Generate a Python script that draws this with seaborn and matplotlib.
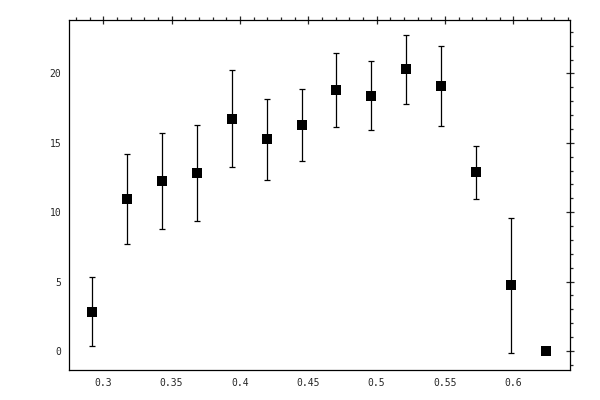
import matplotlib
matplotlib.use("Agg")
import matplotlib.pyplot as plt
from matplotlib.ticker import MultipleLocator
import pandas as pd
import seaborn as sns

# values
x_vals = [0.2921, 0.3177, 0.3432, 0.3688, 0.3944, 0.4200, 0.4456,
          0.4705, 0.4961, 0.5217, 0.5473, 0.5729, 0.5985, 0.6240]
y_vals = [2.79, 10.93, 12.23, 12.80, 16.69, 15.24, 16.26,
          18.78, 18.35, 20.29, 19.07, 12.87, 4.73, 0.0]
y_upper = [5.31, 14.17, 15.69, 16.26, 20.22, 18.13, 18.85,
           21.45, 20.87, 22.74, 21.95, 14.79, 9.56, 0.0]
y_lower = [0.36, 7.69, 8.77, 9.34, 13.23, 12.30, 13.67,
           16.12, 15.90, 17.77, 16.19, 10.93, -0.17, 0.0]

df = pd.DataFrame({"x": x_vals, "y": y_vals, "hi": y_upper, "lo": y_lower})

sns.set_style("white")
plt.rcParams["font.family"] = ["DejaVu Sans Mono"]

fig = plt.figure(figsize=(6, 4), dpi=100)
ax = fig.add_axes([0.1158, 0.075, 0.834, 0.876])

ax.errorbar(df["x"], df["y"],
            yerr=[df["y"] - df["lo"], df["hi"] - df["y"]],
            fmt="none", ecolor="black", elinewidth=0.9, capsize=2.2, capthick=0.9)
sns.scatterplot(data=df, x="x", y="y", marker="s", s=44, color="black",
                edgecolor="black", linewidth=0, ax=ax, zorder=3)

ax.set_xlim(0.2753, 0.6415)
ax.set_ylim(-1.37, 23.88)
ax.xaxis.set_minor_locator(MultipleLocator(0.01))
ax.yaxis.set_minor_locator(MultipleLocator(1))
ax.set_xticks([0.3, 0.35, 0.4, 0.45, 0.5, 0.55, 0.6])
ax.set_xticklabels(["0.3", "0.35", "0.4", "0.45", "0.5", "0.55", "0.6"])
ax.set_yticks([0, 5, 10, 15, 20])
ax.set_yticklabels(["0", "5", "10", "15", "20"])

ax.tick_params(which="major", direction="inout", length=6, width=0.9,
               labelsize=7, top=True, right=True, labeltop=False, labelright=False)
ax.tick_params(which="minor", direction="out", length=2.5, width=0.9,
               top=True, right=True)
ax.tick_params(axis="x", pad=3)
ax.tick_params(axis="y", pad=3)

for sp in ax.spines.values():
    sp.set_color("black")
    sp.set_linewidth(0.9)

ax.set_xlabel("")
ax.set_ylabel("")

fig.savefig("out.png", dpi=100)
plt.close(fig)
